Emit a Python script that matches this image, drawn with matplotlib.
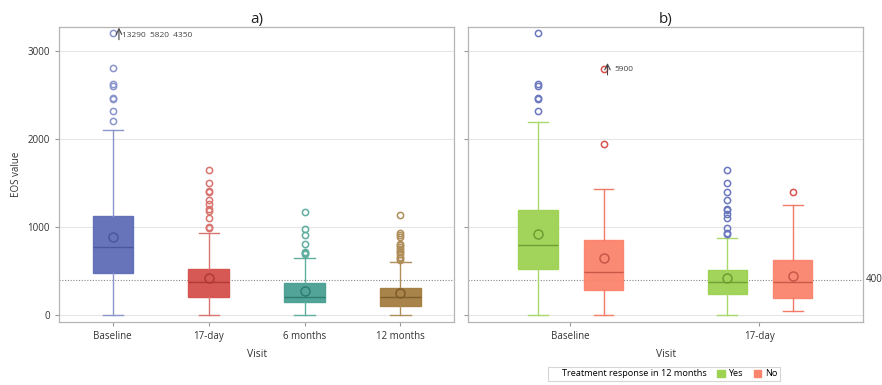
import numpy as np
import matplotlib
matplotlib.use('Agg')
import matplotlib.pyplot as plt
from matplotlib.patches import Patch
from matplotlib.lines import Line2D

plt.rcParams['font.family'] = ['Open Sans', 'DejaVu Sans']

# ---- panel a : all patients by visit ----
visits_a = ['Baseline', '17-day', '6 months', '12 months']
a_q1 = [470, 208, 140, 102]
a_med = [773, 375, 205, 197]
a_q3 = [1125, 520, 356, 307]
a_mean = [886, 420, 265, 246]
a_lo = [0, 0, 0, 0]
a_hi = [2100, 930, 650, 602]
a_fliers = [
    [2200, 2320, 2450, 2460, 2600, 2620, 2800, 3200],
    [990, 1000, 1100, 1180, 1200, 1260, 1300, 1400, 1410, 1500, 1650],
    [690, 700, 710, 810, 905, 980, 1170],
    [620, 640, 660, 690, 710, 730, 750, 770, 790, 810, 880, 910, 930, 1135],
]
a_fill = ['#5f6db6', '#d5504c', '#4a9f93', '#a47d40']
a_line = ['#8a95cc', '#d9746f', '#5fae9f', '#b08e5a']
a_dark = ['#4a579c', '#b03a37', '#2f7d72', '#7e5d2a']

# ---- panel b : by treatment response ----
visits_b = ['Baseline', '17-day']
groups_b = ['Yes', 'No']
b_q1 = {'Yes': [515, 231], 'No': [280, 194]}
b_med = {'Yes': [795, 371], 'No': [490, 371]}
b_q3 = {'Yes': [1193, 505], 'No': [850, 619]}
b_mean = {'Yes': [917, 413], 'No': [650, 440]}
b_lo = {'Yes': [0, 0], 'No': [0, 46]}
b_hi = {'Yes': [2190, 872], 'No': [1427, 1245]}
b_fliers = {
    'Yes': [[2310, 2450, 2460, 2600, 2620, 3200],
            [920, 935, 990, 1100, 1140, 1190, 1200, 1300, 1400, 1500, 1650]],
    'No': [[1945, 2790], [1400]],
}
b_fill = {'Yes': '#9dd252', 'No': '#fb846c'}
b_line = {'Yes': '#a9d86a', 'No': '#f47a68'}
b_dark = {'Yes': '#6e9d33', 'No': '#c9574a'}
b_flier_col = {'Yes': '#6b78bf', 'No': '#d9534f'}

# off-scale values (shown as text next to the clipped marker)
offscale_a = '13290  5820  4350'
offscale_b = '5900'

ref_level = 400
ylim = (-80, 3270)

fig = plt.figure(figsize=(8.82, 3.85), dpi=100)
ax_a = fig.add_axes([0.0669, 0.164, 0.448, 0.766])
ax_b = fig.add_axes([0.531, 0.164, 0.448, 0.766])


def draw_box(ax, pos, width, q1, med, q3, mean, lo, hi, fl, fill, line, dark, flcol):
    st = dict(q1=q1, med=med, q3=q3, mean=mean, whislo=lo, whishi=hi, fliers=fl)
    ax.bxp([st], positions=[pos], widths=width, patch_artist=True, showmeans=True,
           boxprops=dict(facecolor=fill, edgecolor=fill, alpha=0.95, linewidth=1),
           medianprops=dict(color=dark, linewidth=1),
           whiskerprops=dict(color=line, linewidth=1),
           capprops=dict(color=line, linewidth=1),
           meanprops=dict(marker='o', markerfacecolor='none', markeredgecolor=dark,
                          markersize=6.5, markeredgewidth=1.1),
           flierprops=dict(marker='o', markerfacecolor='none', markeredgecolor=flcol,
                           markersize=4.5, markeredgewidth=1.1),
           manage_ticks=False, zorder=3)


for i in range(len(visits_a)):
    draw_box(ax_a, i, 0.42, a_q1[i], a_med[i], a_q3[i], a_mean[i], a_lo[i], a_hi[i],
             a_fliers[i], a_fill[i], a_line[i], a_dark[i], a_line[i])

offs = {'Yes': -0.17, 'No': 0.175}
for i in range(len(visits_b)):
    for g in groups_b:
        draw_box(ax_b, i + offs[g], 0.21, b_q1[g][i], b_med[g][i], b_q3[g][i], b_mean[g][i],
                 b_lo[g][i], b_hi[g][i], b_fliers[g][i], b_fill[g], b_line[g], b_dark[g],
                 b_flier_col[g])

for ax, labels, xl, title in [(ax_a, visits_a, (-0.56, 3.56), 'a)'),
                              (ax_b, visits_b, (-0.54, 1.55), 'b)')]:
    ax.set_xlim(xl)
    ax.set_ylim(ylim)
    ax.set_xticks(range(len(labels)))
    ax.set_xticklabels(labels, fontsize=7, color='#333333')
    ax.set_yticks([0, 1000, 2000, 3000])
    ax.grid(axis='y', color='#e6e6e6', linewidth=0.8, zorder=0)
    ax.axhline(ref_level, color='#888888', linestyle=(0, (1, 1.5)), linewidth=0.8, zorder=2)
    ax.set_xlabel('Visit', fontsize=7.5, color='#333333', labelpad=5)
    ax.set_title(title, fontsize=11, color='#222222', pad=3)
    for s in ax.spines.values():
        s.set_color('#b5b5b5')
        s.set_linewidth(0.9)
    ax.tick_params(axis='both', colors='#999999', length=3, width=0.8, labelcolor='#333333')

ax_a.set_yticklabels(['0', '1000', '2000', '3000'], fontsize=7)
ax_a.set_ylabel('EOS value', fontsize=7, color='#333333', labelpad=4)
ax_b.set_yticklabels([])

# off-scale annotations: thin up arrow + values
arrow = dict(arrowstyle='->', color='#444444', lw=0.8, shrinkA=0, shrinkB=0)
ax_a.annotate('', xy=(0.065, 3262), xytext=(0.065, 3125), arrowprops=arrow,
              annotation_clip=False)
ax_a.text(0.1, 3172, offscale_a, fontsize=6, color='#444444', va='center', ha='left')
ax_b.annotate('', xy=(0.196, 2860), xytext=(0.196, 2725), arrowprops=arrow,
              annotation_clip=False)
ax_b.text(0.235, 2782, offscale_b, fontsize=6, color='#444444', va='center', ha='left')

# reference label on the right
ax_b.text(1.005, ref_level, '400', transform=ax_b.get_yaxis_transform(), fontsize=7,
          color='#333333', va='center', ha='left')

handles = [Line2D([], [], linestyle='none'),
           Patch(facecolor=b_fill['Yes'], edgecolor=b_fill['Yes']),
           Patch(facecolor=b_fill['No'], edgecolor=b_fill['No'])]
leg = fig.legend(handles, ['Treatment response in 12 months', 'Yes', 'No'], ncol=3,
                 loc='center', bbox_to_anchor=(664 / 882, 1 - 374 / 385), fontsize=6.6,
                 frameon=True, fancybox=False, edgecolor='#cccccc', handlelength=0.8,
                 handleheight=0.8, handletextpad=0.4, columnspacing=1.2,
                 borderpad=0.3)
leg.get_frame().set_linewidth(0.8)

fig.savefig('out.png', dpi=100)
